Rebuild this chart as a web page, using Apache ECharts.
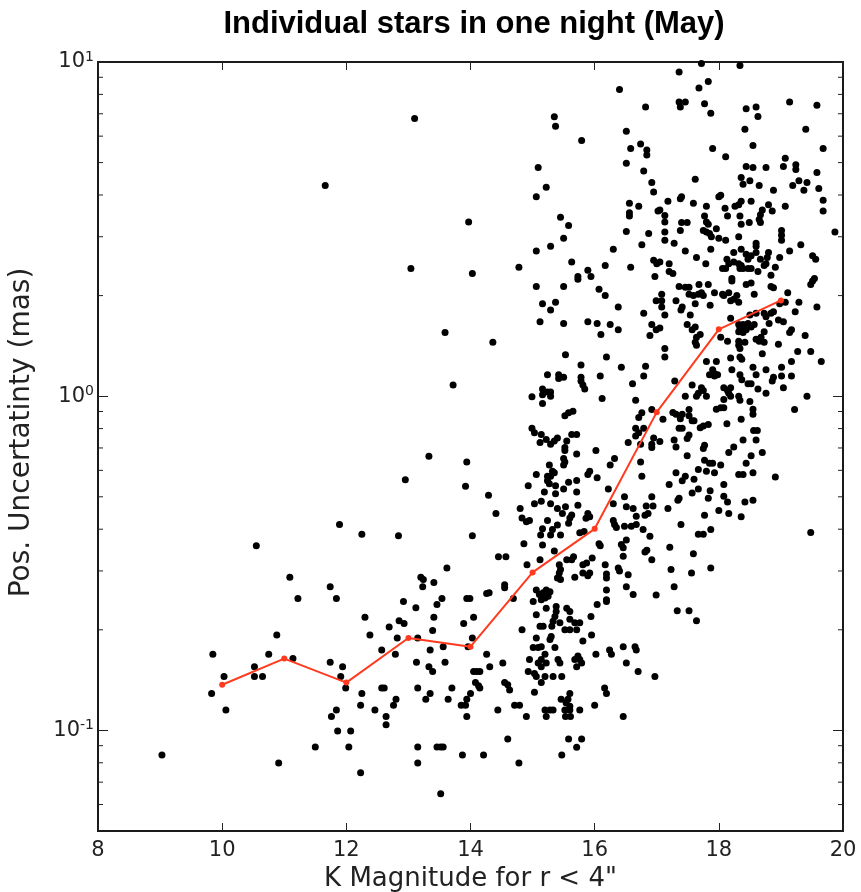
<!DOCTYPE html>
<html>
<head>
<meta charset="utf-8">
<script src="https://cdn.jsdelivr.net/npm/echarts@6/dist/echarts.min.js"></script>
<style>html,body{margin:0;padding:0;background:#fff;}#chart{width:861px;height:892px;}</style>
</head>
<body>
<div id="chart"></div>
<script>
const titleText = 'Individual stars in one night (May)';
const xLabel = 'K Magnitude for r < 4"';
const yLabel = 'Pos. Uncertatinty (mas)';
const xTicks = [8, 10, 12, 14, 16, 18, 20];
const yMajor = [0.1, 1, 10];
const yMinor = [0.06,0.07,0.08,0.09,0.2,0.3,0.4,0.5,0.6,0.7,0.8,0.9,2,3,4,5,6,7,8,9];

const meanMag = [10, 11, 12, 13, 14, 15, 16, 17, 18, 19];
const meanErr = [0.137, 0.164, 0.139, 0.189, 0.178, 0.297, 0.401, 0.896, 1.585, 1.934];

const starsBright = [[13.10,6.78],[11.66,4.27],[13.97,3.32],[13.04,2.41],[14.03,2.33],[13.59,1.55],[13.72,1.08],
[13.33,0.661],[13.94,0.635],[13.92,0.538],[12.95,0.562],[14.03,0.382],[11.89,0.413],[12.25,0.386],[12.84,0.382],[10.55,0.357],[13.62,0.306],[11.09,0.287],[13.20,0.287],[13.24,0.283],[13.23,0.269],[11.74,0.269],[13.41,0.277],[11.22,0.248],[11.84,0.248],[12.92,0.243],[13.54,0.248],[13.46,0.238],[13.94,0.248],[13.99,0.248],[13.12,0.233],[12.30,0.218],[13.41,0.218],[14.05,0.218],[12.85,0.213],[12.93,0.209],[12.69,0.204],[13.39,0.199],[13.89,0.209],[10.88,0.193],[12.38,0.193],[12.82,0.189],[13.15,0.189],[14.03,0.189],[12.57,0.174],[13.35,0.174],[13.56,0.178],[13.96,0.178],[9.85,0.169],[10.75,0.169],[11.14,0.164],[11.74,0.160],[12.79,0.169],[13.13,0.160],[13.59,0.160],[10.52,0.155],[11.94,0.155],[13.33,0.155],[13.39,0.150],[14.05,0.150],[14.10,0.150],[10.03,0.145],[10.52,0.145],[10.65,0.145],[11.91,0.145],[14.08,0.139],[9.83,0.129],[11.99,0.134],[12.57,0.134],[12.61,0.134],[13.15,0.134],[13.70,0.134],[14.13,0.136],[12.25,0.129],[13.35,0.129],[14.00,0.129],[12.80,0.124],[13.28,0.124],[13.64,0.124],[13.94,0.124],[12.23,0.119],[12.76,0.119],[13.85,0.119],[13.92,0.119],[10.06,0.115],[11.84,0.115],[12.46,0.115],[11.76,0.110],[12.64,0.110],[13.94,0.110],[12.64,0.104],[11.86,0.0996],[12.07,0.0996],[11.50,0.0892],[12.04,0.0892],[13.15,0.0892],[13.46,0.0892],[13.52,0.0892],[13.56,0.0892],[9.03,0.0844],[13.87,0.0844],[10.91,0.0799],[13.15,0.0799],[12.23,0.0747],[13.52,0.0646]];

const starsMidHigh = [[16.40,8.28],[16.82,7.33],[15.35,6.86],[15.37,6.42],[15.79,5.82],[16.51,6.21],[16.74,5.68],[16.58,5.51],[16.84,5.45],[16.84,5.27],[15.09,4.83],[16.51,4.98],[16.79,4.72],[15.22,4.22],[15.06,3.95],[16.92,4.36],[16.95,4.08],[16.56,3.78],[16.71,3.70],[16.56,3.54],[16.56,3.46],[17.02,3.58],[15.45,3.43],[15.58,3.24],[15.50,2.97],[16.51,3.11],[16.87,3.07],[16.76,2.84],[15.06,2.72],[15.29,2.81],[16.30,2.75],[14.78,2.43],[15.63,2.52],[15.89,2.38],[16.17,2.46],[16.58,2.43],[16.95,2.55],[17.00,2.49],[15.73,2.28],[15.94,2.28],[16.97,2.28],
[15.06,2.13],[15.50,2.13],[15.73,2.24],[16.07,2.09],[16.17,2.00],[15.16,1.89],[15.37,1.91],[15.29,1.81],[16.38,1.85],[16.79,1.77],[15.12,1.67],[15.50,1.65],[15.89,1.67],[16.04,1.65],[16.25,1.64],[16.38,1.58],[16.10,1.53],[16.92,1.64],[16.99,1.58],[16.89,1.52],[16.99,1.93],[14.36,1.45],[15.53,1.33],[16.19,1.31],[15.78,1.24],[16.43,1.22],[16.82,1.23],[16.79,1.15],[15.24,1.16],[15.42,1.16],[15.42,1.13],[15.50,1.14],[15.78,1.14],[15.78,1.11],[15.81,1.08],[15.84,1.05],[16.09,1.15],[16.61,1.09],[15.16,1.05],[15.16,1.01],[15.24,1.03],[15.29,1.03],[15.29,1.00],[14.99,0.996],[15.16,0.951],[16.12,0.984],[16.66,0.973],[16.92,0.912],[16.76,0.892],[16.71,0.863],[15.52,0.874],[15.58,0.892],[15.65,0.902],[14.99,0.802],[15.03,0.777],[15.14,0.768],[15.12,0.727],[15.22,0.742],[15.29,0.718],[15.35,0.735],[15.40,0.750],[15.55,0.735],[15.52,0.702],[15.52,0.688],[15.63,0.768],[15.71,0.768],[15.71,0.672],[16.02,0.688],[16.54,0.727],[16.66,0.802],[16.71,0.777],[16.66,0.760],[16.79,0.802],[16.74,0.718],[16.95,0.750],[16.92,0.718],[16.92,0.702],[16.32,0.651],[16.25,0.623],[16.74,0.636],[16.76,0.576],[15.50,0.651],[15.52,0.636],[15.50,0.623],[15.27,0.623],[15.32,0.596],[15.35,0.590],[15.24,0.576],[15.29,0.576],[15.24,0.558],[15.27,0.547],[15.06,0.583],[14.93,0.540],[15.19,0.517],[15.37,0.540],[15.37,0.511],[15.50,0.528],[15.58,0.553],[15.71,0.559],[15.71,0.517],[15.89,0.583],[15.92,0.596],[16.04,0.570],[16.22,0.528],[16.48,0.500],[14.29,0.505],[16.92,0.500]];

const starsMidLow = [[14.41,0.446],[14.80,0.461],[15.03,0.477],[15.14,0.485],[15.29,0.477],[15.40,0.461],[15.53,0.467],[15.73,0.472],[14.83,0.432],[14.90,0.421],[14.95,0.425],[15.24,0.425],[15.32,0.399],[15.40,0.412],[15.29,0.384],[15.16,0.401],[15.13,0.384],[15.48,0.446],[15.58,0.417],[15.60,0.432],[15.63,0.441],[15.45,0.384],[15.76,0.390],[15.83,0.394],[15.89,0.446],[15.92,0.436],[15.86,0.431],[15.16,0.359],[14.86,0.362],[15.35,0.344],[15.12,0.324],[14.45,0.331],[14.57,0.331],[14.91,0.313],[15.43,0.313],[15.45,0.303],[15.43,0.296],[15.40,0.286],[15.45,0.283],[15.55,0.324],[15.63,0.324],[15.66,0.331],[15.81,0.313],[15.87,0.317],[15.92,0.296],[15.89,0.290],[15.81,0.296],[15.96,0.328],[15.68,0.287],[16.07,0.362],[16.09,0.357],[16.17,0.313],[16.19,0.294],[16.19,0.286],[16.30,0.425],[16.32,0.413],[16.35,0.405],[16.30,0.477],[16.51,0.467],[16.62,0.461],[16.83,0.469],[16.94,0.469],[16.48,0.408],[16.59,0.408],[16.67,0.413],[16.78,0.399],[16.89,0.381],[16.67,0.437],[16.81,0.440],[16.86,0.446],[16.43,0.360],[16.51,0.371],[16.46,0.352],[16.81,0.342],[16.84,0.346],[16.92,0.324],[16.46,0.332],[16.38,0.306],[16.40,0.300],[16.54,0.292],[16.51,0.269],[16.62,0.255],[16.99,0.254],[16.19,0.263],[16.19,0.246],[16.19,0.243],[16.04,0.238],[15.94,0.219],[14.30,0.258],[14.26,0.257],[14.55,0.273],[14.55,0.267],[14.69,0.248],[15.06,0.263],[15.11,0.255],[15.17,0.258],[15.22,0.263],[15.28,0.260],[15.25,0.252],[15.14,0.246],[15.20,0.249],[15.01,0.243],[15.22,0.232],[15.38,0.235],[15.38,0.227],[15.06,0.222],[15.36,0.219],[15.33,0.212],[15.31,0.205],[15.55,0.232],[15.60,0.227],[15.60,0.215],[15.68,0.210],[15.76,0.210],[15.44,0.210],[15.52,0.200],[15.60,0.200],[15.71,0.200],[15.12,0.205],[15.17,0.205],[14.83,0.200],[15.95,0.193],[15.81,0.185],[15.06,0.189],[15.09,0.177],[15.01,0.177],[15.14,0.178],[15.30,0.191],[15.28,0.187],[15.36,0.177],[15.20,0.169],[15.22,0.159],[15.14,0.163],[15.14,0.155],[15.09,0.159],[15.41,0.163],[15.44,0.159],[14.95,0.163],[14.93,0.150],[15.03,0.148],[15.06,0.145],[15.14,0.139],[15.20,0.145],[15.33,0.145],[15.47,0.145],[15.68,0.163],[15.73,0.167],[15.76,0.163],[15.79,0.159],[15.71,0.155],[16.02,0.169],[16.24,0.174],[16.27,0.169],[16.46,0.178],[16.65,0.178],[16.67,0.174],[16.51,0.159],[16.70,0.150],[16.97,0.145],[14.26,0.169],[14.31,0.155],[14.52,0.159],[14.15,0.150],[14.15,0.134],[14.55,0.139],[14.60,0.137],[14.63,0.132],[15.03,0.130],[15.46,0.124],[15.57,0.124],[15.60,0.129],[15.54,0.121],[15.60,0.118],[16.16,0.134],[16.19,0.129],[16.00,0.119],[14.71,0.119],[14.79,0.119],[14.44,0.115],[15.20,0.115],[15.28,0.115],[15.33,0.115],[15.52,0.115],[15.60,0.115],[15.76,0.115],[16.46,0.110],[14.90,0.110],[15.22,0.110],[15.53,0.110],[15.61,0.110],[14.60,0.0943],[14.21,0.0844],[14.78,0.0799],[15.47,0.0844],[15.58,0.0943],[15.79,0.0943],[15.71,0.0890]];

const starsFaintHigh = [[17.72,9.9],[18.34,9.77],[17.36,9.33],[17.83,8.74],[17.68,8.36],[17.36,7.59],[17.46,7.59],[17.38,7.33],[17.77,7.50],[17.87,7.02],[18.44,7.25],[18.60,7.33],[18.63,6.87],[19.14,7.59],[19.58,7.42],[18.42,6.29],[19.40,6.29],[17.90,5.51],[18.55,5.63],[19.68,5.51],[18.11,5.21],[19.07,5.15],[18.44,4.87],[18.55,4.83],[18.76,4.83],[19.04,4.87],[19.24,4.93],[19.24,4.77],[19.58,4.67],[17.62,4.46],[18.36,4.51],[18.39,4.31],[18.50,4.41],[18.65,4.27],[18.88,4.13],[19.19,4.27],[19.29,4.41],[19.42,4.36],[19.37,4.13],[19.61,4.18],[19.68,3.86],[19.68,3.58],[17.40,3.95],[17.38,3.90],[17.18,3.83],[17.59,3.78],[18.00,3.95],[18.03,3.99],[17.80,3.70],[18.10,3.65],[18.26,3.70],[18.32,3.74],[18.36,3.83],[18.52,3.83],[18.80,3.74],[18.70,3.61],[18.67,3.49],[18.65,3.38],[18.67,3.31],[18.86,3.58],[19.07,3.70],[17.05,3.61],[17.13,3.47],[17.13,3.32],[18.14,3.46],[18.34,3.46],[17.77,3.46],[17.80,3.32],[17.83,3.27],[17.40,3.31],[17.49,3.31],[18.36,3.27],[18.49,3.31],[17.38,3.13],[17.13,3.10],[17.13,2.93],[17.75,3.13],[17.80,3.10],[17.85,3.07],[17.88,3.00],[17.96,3.17],[18.00,2.97],[18.11,2.93],[18.32,3.00],[17.28,2.87],[18.60,2.87],[18.60,2.81],[19.01,3.13],[19.01,3.03],[19.01,2.93],[19.32,2.84],[19.87,3.10],[17.46,2.72],[17.87,2.75],[17.64,2.60],[18.24,2.69],[18.36,2.75],[18.44,2.66],[18.47,2.57],[18.52,2.63],[18.60,2.69],[18.80,2.69],[18.67,2.57],[18.78,2.60],[19.14,2.72],[19.51,2.63],[19.56,2.57],[18.98,2.60],[17.20,2.49],[17.79,2.49],[18.13,2.57],[18.16,2.49],[18.24,2.52],[18.32,2.49],[18.36,2.46],[18.06,2.41],[18.11,2.41],[18.34,2.41],[18.39,2.41],[18.47,2.41],[18.52,2.41],[18.73,2.46],[18.76,2.49],[18.63,2.36],[18.91,2.43],[18.84,2.30],[17.20,2.36],[17.26,2.33],[17.05,2.52],[19.54,2.25],[18.21,2.25]];

const starsFaintLow = [[17.36,2.13],[17.46,2.12],[17.52,2.12],[17.68,2.16],[17.83,2.16],[18.21,2.21],[18.44,2.16],[18.52,2.18],[18.84,2.13],[18.88,2.11],[19.48,2.16],[19.51,2.21],[17.08,2.02],[17.31,1.93],[17.52,2.02],[17.59,2.00],[17.67,2.02],[17.72,2.04],[17.75,2.00],[17.93,2.04],[18.06,2.02],[18.08,2.00],[18.16,2.04],[18.19,1.93],[18.24,1.95],[18.29,2.00],[18.32,1.91],[18.57,2.02],[17.62,1.89],[17.86,1.87],[17.39,1.81],[17.41,1.85],[17.54,1.75],[17.13,1.75],[17.08,1.93],[17.08,1.85],[17.05,1.60],[17.49,1.64],[17.57,1.58],[17.62,1.61],[18.19,1.71],[18.32,1.64],[18.34,1.60],[18.39,1.64],[18.32,1.56],[18.39,1.55],[18.44,1.58],[18.47,1.65],[18.52,1.61],[18.50,1.75],[18.60,1.77],[18.73,1.77],[18.84,1.77],[18.88,1.79],[18.76,1.73],[18.98,1.89],[19.07,1.91],[19.11,2.04],[19.23,1.79],[19.29,1.91],[19.58,1.85],[18.96,1.69],[19.04,1.67],[18.81,1.65],[18.57,1.64],[18.73,1.56],[19.17,1.58],[19.14,1.55],[19.39,1.52],[17.64,1.50],[17.70,1.53],[17.62,1.45],[17.64,1.42],[18.03,1.50],[18.14,1.46],[18.32,1.46],[18.32,1.42],[18.34,1.39],[18.42,1.45],[18.60,1.48],[18.65,1.46],[18.68,1.50],[18.73,1.45],[18.70,1.34],[18.96,1.43],[19.27,1.36],[19.48,1.36],[19.65,1.27],[17.13,1.39],[17.13,1.31],[17.80,1.27],[17.96,1.27],[18.19,1.30],[18.34,1.31],[18.37,1.29],[17.90,1.20],[17.93,1.17],[17.85,1.16],[17.93,1.15],[17.98,1.16],[18.21,1.20],[18.34,1.16],[18.37,1.12],[18.55,1.22],[18.60,1.16],[18.76,1.20],[18.86,1.11],[18.88,1.14],[19.01,1.22],[19.01,1.15],[19.17,1.15],[19.17,1.27],[18.47,1.09],[18.52,1.09],[18.63,1.05],[18.76,1.02],[19.04,1.06],[17.57,1.08],[17.72,1.06],[17.75,1.04],[17.46,1.00],[17.64,1.00],[17.67,1.02],[17.80,1.00],[18.08,1.06],[18.14,1.04],[18.19,1.06],[18.16,1.02],[18.19,1.00],[18.08,0.978],[18.32,1.00],[18.34,0.973],[18.50,0.964],[19.42,1.00],[19.22,0.912],[17.26,0.894],[17.31,0.883],[17.41,0.883],[17.52,0.912],[17.52,0.874],[18.03,0.923],[18.08,0.923],[18.55,0.914],[18.55,0.883],[17.96,0.914],[17.10,0.853],[17.05,0.732],[17.38,0.856],[17.36,0.802],[17.41,0.802],[17.57,0.845],[17.60,0.845],[17.70,0.804],[17.75,0.814],[17.83,0.823],[18.13,0.827],[18.36,0.853],[18.56,0.789],[18.62,0.789],[17.52,0.766],[17.49,0.747],[17.28,0.739],[17.31,0.705],[17.75,0.697],[17.77,0.713],[18.24,0.705],[18.39,0.739],[18.60,0.739],[18.16,0.678],[18.52,0.664],[18.70,0.678],[17.49,0.664],[17.77,0.643],[17.85,0.630],[17.90,0.630],[18.03,0.623],[18.44,0.630],[17.31,0.590],[17.46,0.576],[17.41,0.558],[17.60,0.564],[17.67,0.604],[17.80,0.596],[17.93,0.590],[18.32,0.583],[18.39,0.583],[18.55,0.590],[18.91,0.573],[17.20,0.544],[18.08,0.544],[17.57,0.513],[17.67,0.528],[17.86,0.521],[18.08,0.502],[17.36,0.495],[17.83,0.495],[17.29,1.11],
[17.34,0.488],[17.18,0.461],[18.14,0.482],[18.42,0.482],[18.55,0.488],[17.77,0.440],[18.00,0.455],[18.16,0.446],[18.36,0.436],[17.39,0.413],[17.67,0.386],[17.75,0.386],[17.87,0.399],[19.48,0.391],[17.21,0.353],[17.59,0.338],[17.23,0.303],[17.56,0.296],[17.87,0.306],[17.28,0.269],[17.33,0.228],[17.52,0.228],[17.64,0.213]];

const xMin = 8, xMax = 20, yMin = 0.05, yMax = 10;
const allStars = starsBright.concat(starsMidHigh, starsMidLow, starsFaintHigh, starsFaintLow);

const chart = echarts.init(document.getElementById('chart'), null, {renderer: 'canvas'});
const tickFont = 'DejaVu Sans';
const supLabel = function (v) {
  const e = Math.round(Math.log10(v));
  if (Math.abs(Math.log10(v) - e) > 1e-6) return '';
  return '{b|10}{s|' + e + '}';
};
const richLab = {
  b: {fontFamily: tickFont, fontSize: 21, color: '#222'},
  s: {fontFamily: tickFont, fontSize: 14, color: '#222', verticalAlign: 'top', padding: [0, 0, 10, 0]}
};

chart.setOption({
  animation: false,
  backgroundColor: '#fff',
  title: {
    text: titleText, left: 469, top: 4, textAlign: 'center',
    textStyle: {fontFamily: 'Liberation Sans', fontWeight: 'bold', fontSize: 31, color: '#000'}
  },
  grid: {left: 98, right: 18, top: 62, bottom: 61, show: true, borderColor: '#1a1a1a', borderWidth: 2,
    backgroundColor: 'transparent', containLabel: false, outerBoundsMode: 'none'},
  xAxis: [{
    type: 'value', min: xMin, max: xMax, interval: 2, position: 'bottom',
    axisLine: {show: false}, splitLine: {show: false},
    axisTick: {inside: true, length: 8, lineStyle: {color: '#222', width: 1}},
    axisLabel: {fontFamily: tickFont, fontSize: 21, color: '#222', margin: 9, showMinLabel: true, showMaxLabel: true},
    name: xLabel, nameLocation: 'middle', nameGap: 34,
    nameTextStyle: {fontFamily: tickFont, fontSize: 26, color: '#222'}
  }, {
    type: 'value', min: xMin, max: xMax, interval: 2, position: 'top',
    axisLine: {show: false}, splitLine: {show: false}, axisLabel: {show: false},
    axisTick: {inside: true, length: 8, lineStyle: {color: '#222', width: 1}}
  }],
  yAxis: [{
    type: 'log', logBase: 10, min: yMin, max: yMax, position: 'left',
    axisLine: {show: false}, splitLine: {show: false},
    axisTick: {inside: true, length: 10, lineStyle: {color: '#222', width: 1}},
    axisLabel: {formatter: supLabel, rich: richLab, margin: 4, showMinLabel: false},
    name: yLabel, nameLocation: 'middle', nameGap: 62, nameRotate: 90,
    nameTextStyle: {fontFamily: tickFont, fontSize: 28, color: '#222', padding: [0, 0, 0, 28]}
  }, {
    type: 'log', logBase: 10, min: yMin, max: yMax, position: 'right',
    axisLine: {show: false}, splitLine: {show: false}, axisLabel: {show: false},
    axisTick: {inside: true, length: 10, lineStyle: {color: '#222', width: 1}}
  }],
  series: [{
    type: 'custom', xAxisIndex: 0, yAxisIndex: 0, silent: true, clip: false,
    data: yMinor.map(function (v) { return [xMin, v]; }),
    renderItem: function (params, api) {
      const v = api.value(1);
      const pL = api.coord([xMin, v]);
      const pR = api.coord([xMax, v]);
      const st = {stroke: '#222', lineWidth: 1};
      return {type: 'group', children: [
        {type: 'line', shape: {x1: pL[0], y1: pL[1], x2: pL[0] + 5, y2: pL[1]}, style: st},
        {type: 'line', shape: {x1: pR[0], y1: pR[1], x2: pR[0] - 5, y2: pR[1]}, style: st}
      ]};
    }
  }, {
    type: 'scatter', xAxisIndex: 0, yAxisIndex: 0, data: allStars,
    symbol: 'circle', symbolSize: 7, itemStyle: {color: '#000', opacity: 1}, silent: true
  }, {
    type: 'line', xAxisIndex: 0, yAxisIndex: 0,
    data: meanMag.map(function (m, i) { return [m, meanErr[i]]; }),
    symbol: 'circle', symbolSize: 6, showSymbol: true,
    lineStyle: {color: '#ff3a1e', width: 2}, itemStyle: {color: '#ff3a1e', opacity: 1}, z: 5, silent: true
  }]
});
</script>
</body>
</html>
